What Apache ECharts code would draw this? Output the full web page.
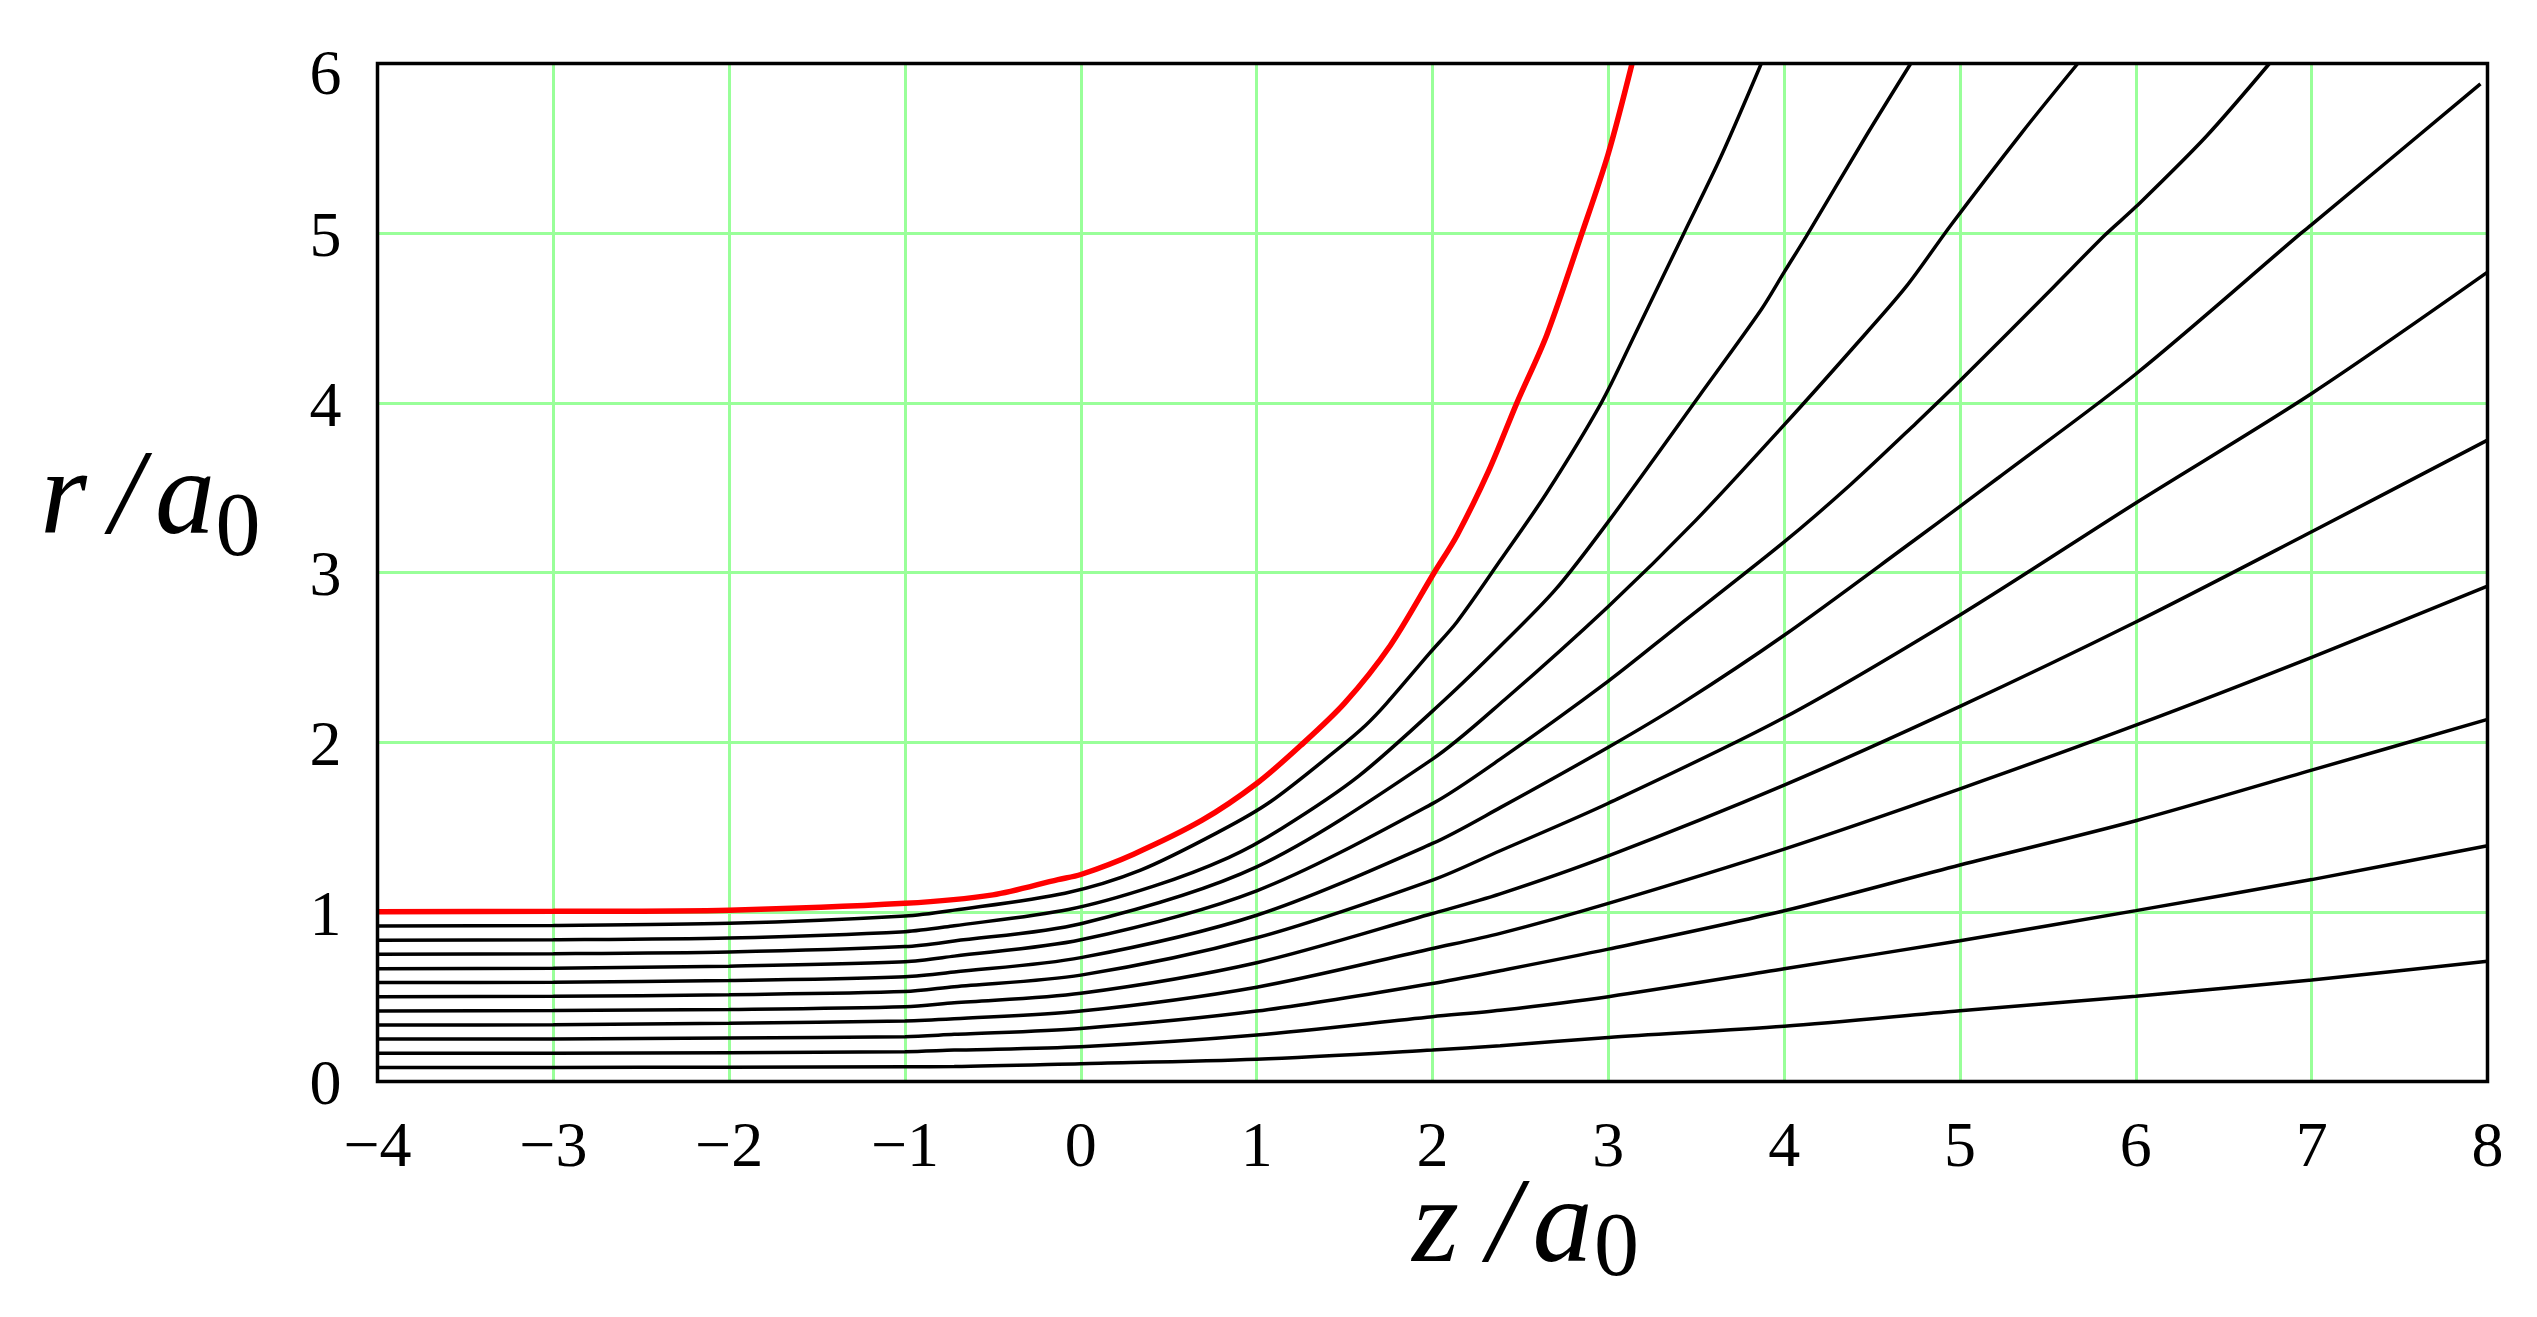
<!DOCTYPE html>
<html><head><meta charset="utf-8">
<script src="https://cdn.jsdelivr.net/npm/echarts@6/dist/echarts.min.js"></script>
<style>html,body{margin:0;padding:0;background:#fff}#c{width:2537px;height:1317px}</style>
</head><body><div id="c"></div>
<script>
// Axis ticks
const xTicks = [-4,-3,-2,-1,0,1,2,3,4,5,6,7,8];
const yTicks = [0,1,2,3,4,5,6];
// Curves: [z/a0, r/a0] points
const redCurve = [[-4,1.0],[-3,1.003],[-2,1.01],[-1,1.05],[-0.5,1.1],[-0.13,1.19],[0,1.22],[0.3,1.34],[0.69,1.54],[1,1.756],[1.25,1.98],[1.5,2.23],[1.76,2.57],[2.01,3.0],[2.14,3.22],[2.32,3.6],[2.48,4.0],[2.65,4.4],[2.85,5.0],[3.0,5.47],[3.135,6.0]];
const curve1 = [[-4,0.917],[-3,0.92],[-2,0.932],[-1,0.975],[-0.72,1.01],[-0.09,1.11],[0.34,1.246],[0.8,1.48],[1.08,1.65],[1.45,1.95],[1.62,2.1],[1.74,2.23],[1.98,2.52],[2.14,2.71],[2.385,3.07],[2.65,3.47],[2.96,4.0],[3.15,4.4],[3.43,5.0],[3.64,5.45],[3.87,6.0]];
const curve2 = [[-4,0.833],[-3,0.836],[-2,0.846],[-1,0.883],[-0.72,0.918],[-0.07,1.014],[0.41,1.15],[0.84,1.32],[1.14,1.49],[1.58,1.8],[2.07,2.25],[2.385,2.565],[2.7,2.9],[3,3.3],[3.52,4.045],[3.87,4.55],[4,4.77],[4.125,4.98],[4.47,5.58],[4.72,6.0]];
const curve3 = [[-4,0.75],[-3,0.753],[-2,0.763],[-1,0.795],[-0.72,0.828],[0,0.93],[1,1.265],[2,1.9],[2.41,2.25],[3,2.8],[3.5,3.31],[4,3.87],[4.38,4.31],[4.69,4.68],[4.95,5.05],[5.35,5.59],[5.67,6.0]];
const curve4 = [[-4,0.665],[-3,0.668],[-2,0.68],[-1,0.706],[-0.72,0.739],[0,0.835],[1,1.124],[2,1.638],[2.385,1.9],[3,2.36],[3.39,2.68],[4,3.18],[4.38,3.52],[4.75,3.88],[5,4.13],[5.53,4.68],[5.826,4.99],[6,5.155],[6.4,5.57],[6.76,6.0]];
const curve5 = [[-4,0.583],[-3,0.585],[-2,0.595],[-1,0.618],[-0.72,0.645],[0,0.73],[1,0.98],[2,1.403],[2.385,1.614],[3,1.97],[3.42,2.23],[4,2.63],[4.74,3.19],[5,3.39],[5.22,3.56],[6,4.17],[6.94,5.0],[7,5.05],[7.96,5.88]];
const curve6 = [[-4,0.5],[-3,0.502],[-2,0.512],[-1,0.53],[-0.72,0.559],[0,0.627],[1,0.847],[2,1.187],[2.385,1.36],[3,1.64],[4,2.145],[5,2.75],[6,3.41],[7,4.055],[8,4.77]];
const curve7 = [[-4,0.416],[-3,0.418],[-2,0.425],[-1,0.441],[-0.72,0.464],[0,0.52],[1,0.7],[2,0.99],[2.385,1.106],[3,1.33],[4,1.747],[5,2.211],[6,2.708],[7,3.24],[8,3.78]];
const curve8 = [[-4,0.333],[-3,0.335],[-2,0.343],[-1,0.357],[-0.72,0.37],[0,0.415],[1,0.556],[2,0.784],[2.385,0.873],[3,1.05],[4,1.37],[5,1.725],[6,2.1],[7,2.5],[8,2.92]];
const curve9 = [[-4,0.25],[-3,0.251],[-2,0.256],[-1,0.264],[-0.72,0.278],[0,0.313],[1,0.415],[2,0.578],[2.385,0.653],[3,0.78],[4,1.006],[5,1.276],[6,1.537],[7,1.835],[8,2.134]];
const curve10 = [[-4,0.167],[-3,0.167],[-2,0.17],[-1,0.176],[-0.72,0.185],[0,0.205],[1,0.274],[2,0.382],[2.385,0.42],[3,0.5],[4,0.664],[5,0.83],[6,1.007],[7,1.19],[8,1.39]];
const curve11 = [[-4,0.083],[-3,0.083],[-2,0.084],[-1,0.087],[-0.72,0.088],[0,0.105],[1,0.131],[2,0.185],[2.385,0.211],[3,0.26],[4,0.326],[5,0.417],[6,0.503],[7,0.598],[8,0.709]];

const blackCurves = [curve1,curve2,curve3,curve4,curve5,curve6,curve7,curve8,curve9,curve10,curve11];
const SERIF = '"Liberation Serif","Times New Roman",serif';

const chart = echarts.init(document.getElementById('c'), null, {renderer:'canvas'});
const series = blackCurves.map((d,i)=>({
  type:'line', data:d, showSymbol:false, smooth:0.3, clip:true,
  lineStyle:{color:'#000', width:3.5}, z:3, silent:true
}));
series.push({type:'line', data:redCurve, showSymbol:false, smooth:0.3, clip:true,
  lineStyle:{color:'#ff0000', width:5.5}, z:4, silent:true});

function t(text, x, y, size, italic){
  return {type:'text', x:x, y:y, silent:true, z:50, style:{text:text, font:(italic?'italic ':'')+size+'px '+SERIF, fill:'#000', align:'center', verticalAlign:'middle'}};
}
const G = {left:377.5, right:49.5, top:63.5, bottom:235.5};

chart.setOption({
  animation:false,
  backgroundColor:'#fff',
  grid:{left:G.left, right:G.right, top:G.top, bottom:G.bottom},
  xAxis:{type:'value', min:xTicks[0], max:xTicks[xTicks.length-1], interval:1,
    axisLine:{show:false}, axisTick:{show:false},
    splitLine:{show:true, lineStyle:{color:'#99ff99', width:3}},
    axisLabel:{fontFamily:SERIF, fontSize:64, lineHeight:64, color:'#000', margin:36,
      formatter:v=> v<0 ? '\u2212'+(-v) : String(v)}},
  yAxis:{type:'value', min:yTicks[0], max:yTicks[yTicks.length-1], interval:1,
    axisLine:{show:false}, axisTick:{show:false},
    splitLine:{show:true, lineStyle:{color:'#99ff99', width:3}},
    axisLabel:{fontFamily:SERIF, fontSize:64, lineHeight:64, color:'#000', margin:36, padding:[12,0,0,0],
      formatter:v=> v===6 ? '{top|6}' : String(v),
      rich:{top:{fontFamily:SERIF, fontSize:64, lineHeight:64, padding:[16,0,0,0]}}}},
  series:series,
  graphic:[
    {type:'rect', silent:true, z:100, shape:{x:G.left, y:G.top, width:2537-G.left-G.right, height:1317-G.top-G.bottom},
      style:{fill:'none', stroke:'#000', lineWidth:3.5}},
    t('r', 63.5, 501.5, 120, true),
    t('/', 126.5, 501.5, 120, true),
    t('a', 185, 501.5, 120, true),
    t('0', 238, 531.6, 90, false),
    t('z', 1435.5, 1229.5, 120, true),
    t('/', 1504, 1229.5, 120, true),
    t('a', 1562.5, 1229.5, 120, true),
    t('0', 1616.5, 1251.6, 90, false)
  ]
});
</script></body></html>
